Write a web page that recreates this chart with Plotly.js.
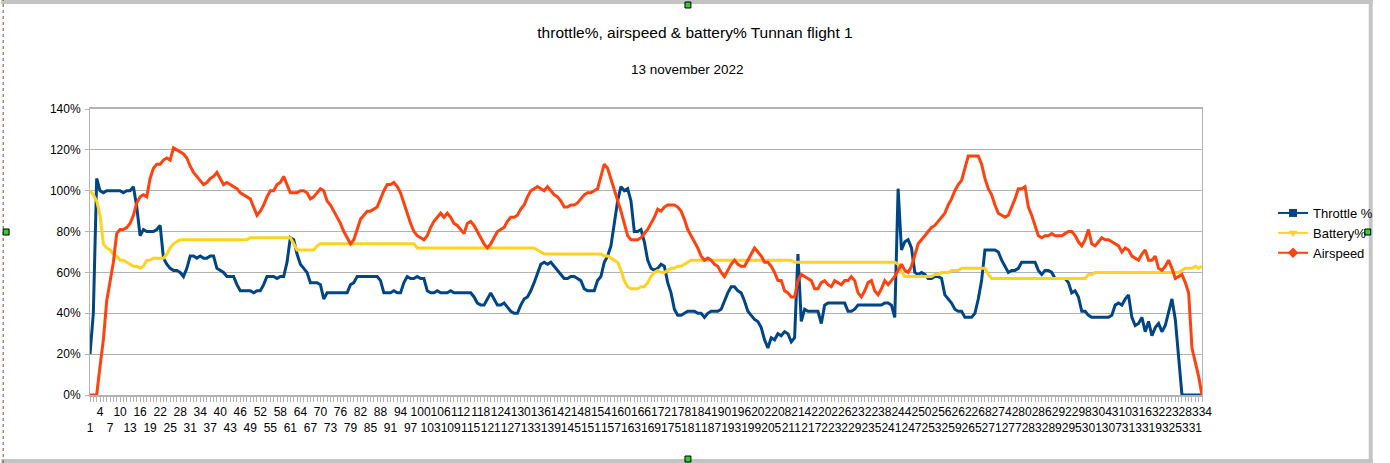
<!DOCTYPE html>
<html><head><meta charset="utf-8">
<script src="https://cdn.plot.ly/plotly-3.0.1.min.js"></script>
<style>html,body{margin:0;padding:0;background:#fff}#chart{width:1390px;height:463px}</style>
</head><body><div id="chart"></div>
<script>
// categories 1..334 (sample index)
const categories = Array.from({length: 334}, (_, i) => i + 1);

const throttle = [
 20, 40,106,100, 99,100,100,100,100,100,
 99,100,100,102, 92, 78, 81, 80, 80, 80,
 81, 83, 67, 64, 62, 61, 61, 60, 58, 62,
 68, 68, 67, 68, 67, 67, 68, 68, 62, 61,
 60, 58, 58, 58, 54, 51, 51, 51, 51, 50,
 51, 51, 54, 58, 58, 58, 57, 58, 58, 65,
 77, 76, 69, 64, 62, 60, 55, 55, 55, 54,
 47, 50, 50, 50, 50, 50, 50, 50, 54, 55,
 58, 58, 58, 58, 58, 58, 58, 56, 50, 50,
 50, 51, 50, 50, 55, 58, 57, 57, 58, 57,
 57, 51, 50, 50, 51, 50, 50, 50, 51, 50,
 50, 50, 50, 50, 50, 48, 45, 44, 44, 47,
 50, 47, 44, 44, 45, 43, 41, 40, 40, 44,
 47, 48, 51, 55, 60, 64, 65, 64, 65, 63,
 61, 59, 57, 57, 58, 58, 57, 56, 52, 51,
 51, 51, 56, 58, 65, 68, 73, 85, 95,102,
100,101, 95, 80, 80, 81, 75, 66, 62, 61,
 62, 64, 63, 55, 50, 42, 39, 39, 40, 41,
 41, 41, 40, 40, 38, 40, 41, 41, 41, 42,
 46, 50, 53, 53, 51, 50, 46, 41, 39, 37,
 36, 33, 27, 23, 28, 27, 30, 29, 31, 30,
 26, 28, 69, 36, 42, 41, 41, 41, 41, 35,
 44, 45, 45, 45, 45, 45, 45, 41, 41, 42,
 44, 44, 44, 44, 44, 44, 44, 44, 45, 45,
 44, 38,101, 71, 75, 76, 72, 60, 59, 60,
 59, 57, 57, 58, 58, 57, 49, 47, 45, 42,
 41, 41, 38, 38, 38, 40, 47, 56, 71, 71,
 71, 71, 70, 66, 63, 60, 61, 61, 62, 65,
 65, 65, 65, 65, 61, 59, 61, 61, 60, 57,
 57, 57, 57, 55, 50, 51, 48, 41, 41, 39,
 38, 38, 38, 38, 38, 38, 39, 44, 45, 44,
 47, 49, 38, 34, 35, 38, 31, 36, 29, 33,
 35, 31, 34, 40, 47, 37, 18,  0,  0,  0,
  0,  0,  0,  0
];

const battery = [
100, 98, 95, 88, 74, 72, 71, 69, 68, 66,
 66, 65, 64, 63, 63, 62, 63, 66, 66, 67,
 67, 67, 67, 69, 72, 74, 75, 76, 76, 76,
 76, 76, 76, 76, 76, 76, 76, 76, 76, 76,
 76, 76, 76, 76, 76, 76, 76, 76, 77, 77,
 77, 77, 77, 77, 77, 77, 77, 77, 77, 77,
 77, 74, 71, 71, 71, 71, 71, 71, 73, 74,
 74, 74, 74, 74, 74, 74, 74, 74, 74, 74,
 74, 74, 74, 74, 74, 74, 74, 74, 74, 74,
 74, 74, 74, 74, 74, 74, 74, 74, 72, 72,
 72, 72, 72, 72, 72, 72, 72, 72, 72, 72,
 72, 72, 72, 72, 72, 72, 72, 72, 72, 72,
 72, 72, 72, 72, 72, 72, 72, 72, 72, 72,
 72, 72, 72, 72, 71, 70, 69, 69, 69, 69,
 69, 69, 69, 69, 69, 69, 69, 69, 69, 69,
 69, 69, 69, 69, 68, 68, 67, 66, 65, 61,
 56, 53, 52, 52, 52, 53, 53, 55, 58, 60,
 61, 60, 60, 61, 62, 62, 63, 63, 64, 65,
 66, 66, 66, 66, 66, 66, 66, 66, 66, 66,
 66, 66, 66, 66, 66, 66, 66, 66, 66, 66,
 66, 66, 66, 66, 66, 66, 66, 66, 66, 66,
 66, 65, 65, 65, 65, 65, 65, 65, 65, 65,
 65, 65, 65, 65, 65, 65, 65, 65, 65, 65,
 65, 65, 65, 65, 65, 65, 65, 65, 65, 65,
 65, 65, 64, 60, 58, 58, 58, 58, 58, 58,
 58, 58, 58, 59, 59, 60, 60, 60, 61, 61,
 61, 62, 62, 62, 62, 62, 62, 62, 62, 59,
 57, 57, 57, 57, 57, 57, 57, 57, 57, 57,
 57, 57, 57, 57, 57, 57, 57, 57, 57, 57,
 57, 57, 57, 57, 57, 57, 57, 57, 57, 59,
 59, 60, 60, 60, 60, 60, 60, 60, 60, 60,
 60, 60, 60, 60, 60, 60, 60, 60, 60, 60,
 60, 60, 60, 60, 60, 60, 60, 61, 62, 62,
 62, 63, 62, 63
];

const airspeed = [
  0,  0,  0, 14, 27, 46, 55, 65, 79, 81,
 81, 82, 84, 88, 94, 97, 98, 97,106,111,
113,113,115,116,115,121,120,119,118,116,
112,109,107,105,103,104,106,107,109,106,
103,104,103,102,101, 99, 98, 97, 96, 92,
 88, 90, 93, 97,100,100,103,104,107,103,
 99, 99, 99,100,100, 99, 96, 97, 99,101,
100, 95, 93, 90, 87, 84, 80, 77, 74, 76,
 81, 86, 88, 90, 90, 91, 92, 96,100,103,
103,104,102, 99, 94, 88, 84, 80, 78, 77,
 76, 78, 82, 85, 87, 89, 87, 89, 87, 84,
 83, 81, 79, 84, 85, 83, 80, 77, 74, 72,
 74, 77, 80, 81, 82, 85, 87, 87, 88, 91,
 93, 97,100,101,102,101,100,102,100, 98,
 97, 95, 92, 92, 93, 93, 94, 96, 98, 99,
 99,100,101,107,113,111,106,101, 96, 90,
 84, 78, 76, 76, 76, 77, 79, 81, 84, 87,
 91, 90, 92, 93, 93, 93, 92, 90, 86, 81,
 78, 75, 72, 68, 66, 67, 66, 64, 63, 60,
 58, 61, 64, 66, 64, 63, 63, 66, 69, 72,
 70, 68, 65, 65, 63, 60, 56, 56, 51, 50,
 48, 48, 56, 59, 58, 57, 56, 52, 52, 55,
 56, 54, 53, 56, 55, 54, 56, 56, 58, 56,
 50, 48, 51, 55, 56, 51, 49, 52, 56, 54,
 56, 58, 61, 64, 61, 60, 63, 68, 74, 76,
 78, 80, 82, 83, 85, 87, 89, 93, 96,100,
103,105,111,117,117,117,117,113,106,101,
 98, 93, 89, 88, 87, 88, 92, 96,101,101,
102, 92, 88, 83, 78, 77, 78, 78, 79, 78,
 78, 78, 79, 80, 80, 78, 75, 73, 76, 81,
 74, 73, 75, 77, 76, 76, 75, 74, 73, 70,
 72, 71, 68, 67, 66, 69, 71, 66, 66, 68,
 62, 61, 63, 66, 62, 57, 58, 59, 55, 50,
 23, 16,  9,  0
];

const seriesNames = ['Throttle %', 'Battery%', 'Airspeed'];
const seriesColors = ['#004586', '#ffd320', '#ff420e'];
const seriesSymbols = ['square', 'triangle-down', 'diamond'];

// every 3rd category is labelled, alternating between two rows
const tickLabels = categories.map(c => {
  if ((c - 1) % 3 !== 0) return '';
  return (((c - 1) / 3) % 2 === 0) ? '<br>' + c : String(c);
});

const L = 90, R = 1217, T = 109, B = 395;
const fx = p => (p - L) / (R - L);
const fy = p => (B - p) / (B - T);

const values = [throttle, battery, airspeed];
const traces = [];
values.forEach((v, k) => {
  traces.push({
    x: categories, y: v, type: 'scatter', mode: 'lines',
    line: {color: seriesColors[k], width: 3}, showlegend: false, hoverinfo: 'skip'
  });
});
values.forEach((v, k) => {
  traces.push({
    x: [null], y: [null], type: 'scatter', mode: 'lines+markers', name: seriesNames[k],
    line: {color: seriesColors[k], width: 2},
    marker: {symbol: seriesSymbols[k], size: 8, color: seriesColors[k]}
  });
});

const gray = '#b3b3b3';
const handle = (px, py) => ({type: 'rect', xref: 'paper', yref: 'paper',
  x0: fx(px - 3), x1: fx(px + 3), y0: fy(py + 3), y1: fy(py - 3),
  fillcolor: '#33cc33', line: {color: '#000000', width: 1}, layer: 'above'});

const layout = {
  width: 1390, height: 463,
  margin: {l: L, r: 1390 - R, t: T, b: 463 - B, pad: 0},
  paper_bgcolor: '#ffffff', plot_bgcolor: '#ffffff',
  font: {family: 'Liberation Sans, Arial, sans-serif', size: 12, color: '#000000'},
  title: {text: 'throttle%, airspeed &amp; battery% Tunnan flight 1',
    font: {size: 15.5, color: '#000000'}, xref: 'container', x: 0.5, xanchor: 'center',
    yref: 'container', y: 1 - 33 / 463, yanchor: 'middle'},
  annotations: [{text: '13 november 2022', xref: 'paper', yref: 'paper',
    x: fx(696), y: fy(70), xanchor: 'center', yanchor: 'middle', showarrow: false,
    font: {size: 13.5, color: '#000000'}}],
  xaxis: {
    type: 'linear', range: [1, 334], tickmode: 'array', tickvals: categories, ticktext: tickLabels,
    tickangle: 0, ticks: 'outside', ticklen: 5, tickwidth: 1, tickcolor: gray,
    showline: true, linecolor: gray, linewidth: 2, mirror: true,
    showgrid: false, zeroline: false, tickfont: {size: 12, color: '#000000'}
  },
  yaxis: {
    range: [0, 140], tickmode: 'linear', tick0: 0, dtick: 20, ticksuffix: '%',
    ticks: 'outside', ticklen: 4, tickcolor: gray, showline: true, linecolor: gray, linewidth: 1,
    mirror: true, gridcolor: gray, gridwidth: 1, zeroline: false, ticklabelstandoff: 2,
    tickfont: {size: 12, color: '#000000'}
  },
  legend: {x: fx(1289), y: fy(198), xanchor: 'left', yanchor: 'top',
    font: {size: 13, color: '#000000'}, bgcolor: 'rgba(0,0,0,0)', itemwidth: 30, tracegroupgap: 0},
  shapes: [
    {type: 'rect', xref: 'paper', yref: 'paper', x0: fx(0), x1: fx(1390), y0: fy(4), y1: fy(0),
      fillcolor: '#c4c4c4', line: {width: 0}, layer: 'above'},
    {type: 'rect', xref: 'paper', yref: 'paper', x0: fx(1386), x1: fx(1390), y0: fy(463), y1: fy(0),
      fillcolor: '#c4c4c4', line: {width: 0}, layer: 'above'},
    {type: 'rect', xref: 'paper', yref: 'paper', x0: fx(0), x1: fx(1390), y0: fy(463), y1: fy(459),
      fillcolor: '#c4c4c4', line: {width: 0}, layer: 'above'},
    {type: 'line', xref: 'paper', yref: 'paper', x0: fx(2), x1: fx(2), y0: fy(463), y1: fy(0),
      line: {color: '#8b3a3a', width: 1, dash: 'dot'}, layer: 'above'},
    handle(696, 5), handle(696, 459), handle(5, 232), handle(1385, 232)
  ]
};

Plotly.newPlot('chart', traces, layout, {staticPlot: true, displayModeBar: false});
</script>
</body></html>
